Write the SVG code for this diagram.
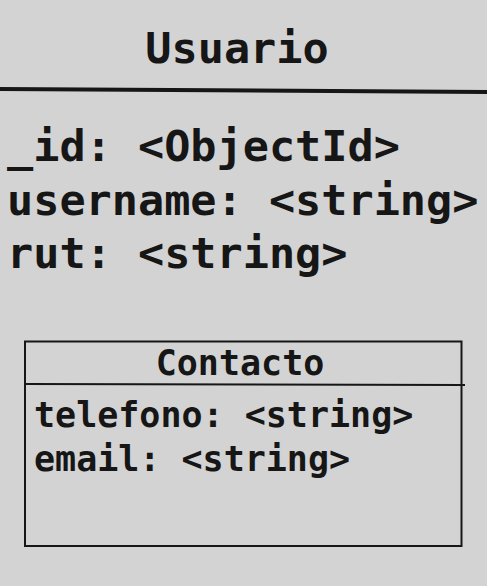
<svg xmlns="http://www.w3.org/2000/svg" width="487" height="586" viewBox="0 0 487 586">
<style>
.t{font-family:"DejaVu Sans Mono","Liberation Mono",monospace;font-weight:bold;fill:#161616}
.big{font-size:43.5px}
.small{font-size:35px}
.ln{stroke:#161616;fill:none}
</style>
<rect x="0" y="0" width="487" height="586" fill="#d3d3d3"/>
<g id="usuario">
<text class="t big" x="237" y="63" text-anchor="middle">Usuario</text>
<path class="ln" d="M0 89 L487 92" stroke-width="4"/>
<text class="t big" x="7" y="161">_id: &lt;ObjectId&gt;</text>
<text class="t big" x="7" y="215">username: &lt;string&gt;</text>
<text class="t big" x="7" y="268">rut: &lt;string&gt;</text>
</g>
<g id="contacto">
<rect class="ln" x="25" y="341.5" width="436.5" height="204.5" stroke-width="2"/>
<path class="ln" d="M25 384 L465 385" stroke-width="2"/>
<text class="t small" x="240" y="375" text-anchor="middle">Contacto</text>
<text class="t small" x="34" y="427">telefono: &lt;string&gt;</text>
<text class="t small" x="34" y="471">email: &lt;string&gt;</text>
</g>
<g id="connectors"/>
</svg>
